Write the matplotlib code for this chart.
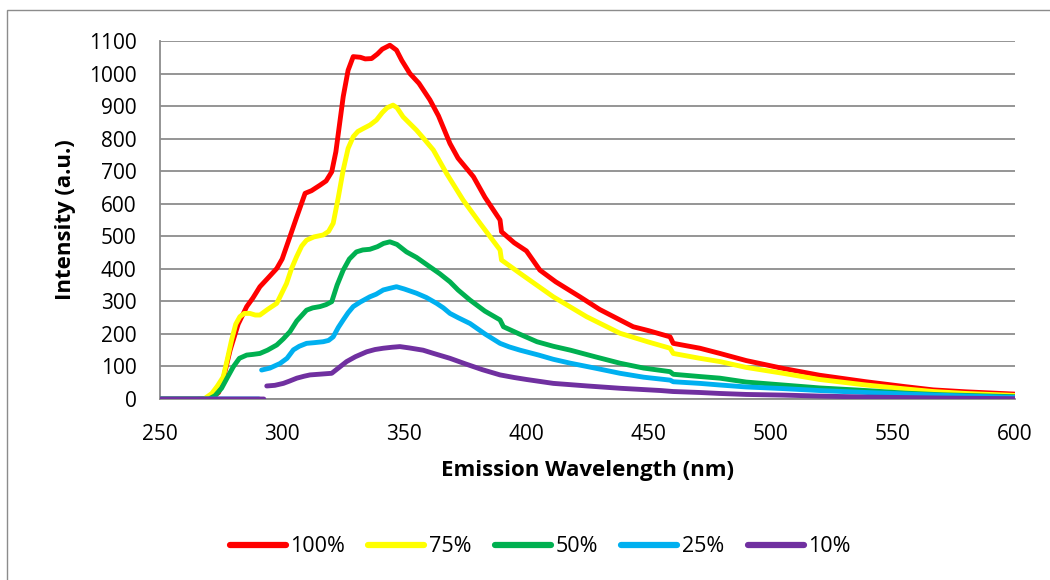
import matplotlib
matplotlib.use("Agg")
import matplotlib.pyplot as plt
from matplotlib.patches import Rectangle
import numpy as np

plt.rcParams['font.family'] = ['Open Sans', 'DejaVu Sans']

# ---- data ----
labels = ["100%", "75%", "50%", "25%", "10%"]
colors = ["#FF0000", "#FFFF00", "#00B050", "#00B0F0", "#7030A0"]

wl_100 = [250, 265, 271, 274, 276, 278.7, 282, 285.5, 288, 290.9, 294, 297.8, 300, 303.2, 306, 309.4, 312,
          315.5, 318, 320.3, 322, 325, 327, 329.1, 332, 334, 336.6, 339, 341, 344.1, 346.8, 349, 352.3, 356,
          360.5, 364, 368.7, 372, 378.3, 383, 389.2, 389.8, 395, 400, 405.5, 412, 421.9, 430, 443.7, 450,
          458.8, 460.1, 471, 479.2, 490, 505, 520, 539, 555, 566.5, 580, 600]
int_100 = [0, 0, 2, 20, 65, 150, 230, 284, 310, 345, 370, 401, 430, 499, 560, 632, 640,
           657, 670, 698, 760, 929, 1010, 1052, 1050, 1045, 1046, 1060, 1075, 1087, 1072, 1040, 1000, 970,
           919, 870, 785, 740, 683, 620, 550, 514, 480, 455, 396, 360, 314, 275, 222, 210,
           191, 171, 156, 140, 118, 94, 73, 53, 38, 28, 22, 15]

wl_75 = [250, 268, 271.2, 273.5, 275.9, 277.5, 279.3, 281, 282.7, 284.5, 286.8, 289, 290.9, 294, 297.8,
         301.8, 303.8, 305.9, 308, 310, 313, 316.8, 319, 320.9, 323, 325, 327, 329.1, 331, 333.2, 336,
         338.6, 341, 343, 345.4, 347, 349.5, 355, 358, 361.9, 367.3, 374.1, 381, 389.2, 389.8, 397.4, 411,
         424.6, 438.3, 450, 458.8, 460.1, 471, 479.2, 490, 505, 520, 539, 555, 566.5, 580, 600]
int_75 = [0, 0, 17, 40, 68, 120, 181, 230, 253, 263, 263, 258, 258, 275, 294,
          355, 400, 437, 470, 488, 498, 504, 515, 540, 620, 704, 770, 806, 822, 831, 842,
          857, 880, 895, 903, 895, 867, 826, 800, 765, 693, 611, 540, 458, 427, 386, 314,
          253, 202, 175, 156, 140, 125, 115, 97, 79, 60, 43, 31, 23, 17, 11]

wl_50 = [250, 270, 272.5, 275.2, 277.5, 280, 282.5, 285.5, 288, 290.9, 294, 297.8, 300.5, 303.2, 306, 310,
         312.5, 315.5, 318, 320.3, 322.5, 325, 327.5, 330.4, 333, 335.9, 339, 341.5, 344.1, 347, 350.9, 355,
         360.5, 364.5, 368.7, 372, 376.9, 383, 389.2, 390.6, 397, 404.3, 411, 418, 428, 438.3, 448, 458.8,
         460.1, 471, 479.2, 490, 505, 520, 539, 555, 570, 600]
int_50 = [0, 0, 10, 33, 65, 99, 125, 135, 137, 140, 150, 166, 185, 207, 240, 273,
          280, 284, 290, 299, 350, 396, 430, 452, 458, 460, 468, 478, 483, 475, 452, 435,
          406, 385, 360, 335, 304, 270, 243, 222, 200, 176, 162, 150, 130, 110, 95, 84,
          76, 69, 64, 52, 43, 34, 26, 18, 13, 7]

wl_25 = [250, 290.5, 291, 291.6, 295, 299.1, 302, 304.6, 307, 310, 313, 316.8, 319, 320.9, 323, 325, 327,
         329.1, 332, 335.9, 338.5, 341.4, 344, 346.8, 350, 355, 359, 363.2, 366, 368.7, 372, 376.9, 383,
         389.2, 393, 397.4, 405, 411, 418, 428, 438.3, 448, 458.8, 460.1, 471, 479.2, 490, 505, 520, 539,
         560, 580, 600]
int_25 = [0, 0, np.nan, 89, 95, 109, 125, 151, 162, 171, 173, 176, 180, 191, 220, 243, 265,
          284, 298, 314, 322, 335, 340, 345, 338, 325, 312, 294, 280, 263, 250, 232, 200,
          171, 160, 150, 135, 122, 110, 95, 79, 67, 58, 53, 48, 43, 37, 32, 26, 20,
          14, 9, 5]

wl_10 = [250, 292.5, 293, 293.7, 297, 300.5, 303, 306, 309, 311.4, 315, 320.3, 323, 326.4, 330, 334.6,
         338, 341.4, 345, 348.2, 352, 357.7, 362, 368.7, 375, 382, 389.2, 395, 400, 411, 425, 438.3, 455,
         460, 471, 479.2, 490, 505, 520, 539, 570, 600]
int_10 = [0, 0, np.nan, 40, 42, 48, 55, 64, 70, 74, 76, 79, 95, 115, 130, 145,
          152, 156, 159, 161, 157, 150, 140, 125, 108, 90, 74, 66, 60, 48, 40, 33, 26,
          23, 20, 17, 14, 12, 9, 6, 3, 1]

series_x = [wl_100, wl_75, wl_50, wl_25, wl_10]
series_y = [int_100, int_75, int_50, int_25, int_10]

x_ticks = [250, 300, 350, 400, 450, 500, 550, 600]
y_ticks = list(range(0, 1101, 100))

# ---- figure ----
W, H = 1050, 580
fig = plt.figure(figsize=(W / 100, H / 100), dpi=100)
fig.patch.set_facecolor("white")

# chart-area border (cropped at right/bottom)
fig.add_artist(Rectangle((7 / W, -0.1), 1.2, 1 - 10 / H + 0.1, transform=fig.transFigure,
                         fill=False, edgecolor="#8C8C8C", linewidth=1.0))

ax = fig.add_axes([160 / W, 1 - 399 / H, (1015 - 160) / W, (399 - 41) / H])

grid_col = "#8C8C8C"
for yv in y_ticks:
    ax.axhline(yv, color=grid_col, linewidth=1.3, zorder=1)

for xs, ys, c, lab in zip(series_x, series_y, colors, labels):
    ax.plot(xs, ys, color=c, linewidth=3.5, label=lab, solid_capstyle="round",
            solid_joinstyle="round", zorder=3)

ax.set_xlim(250, 600)
ax.set_ylim(0, 1100)
ax.set_xticks(x_ticks)
ax.set_yticks(y_ticks)
ax.tick_params(axis="both", length=0, labelsize=15, colors="black")
ax.tick_params(axis="y", pad=17)
ax.tick_params(axis="x", pad=18)

for s in ["top", "right"]:
    ax.spines[s].set_visible(False)
for s in ["left", "bottom"]:
    ax.spines[s].set_color(grid_col)
    ax.spines[s].set_linewidth(1.3)
    ax.spines[s].set_zorder(2)

ax.set_xlabel("Emission Wavelength (nm)", fontsize=16, fontweight="bold", labelpad=11)
ax.set_ylabel("Intensity (a.u.)", fontsize=16, fontweight="bold", labelpad=9)

leg = fig.legend(loc="center", bbox_to_anchor=(540 / W, 1 - 547 / H), ncol=5, frameon=False,
                 fontsize=15.5, handlelength=2.6, handletextpad=0.2, columnspacing=1.1)
for h in leg.get_lines():
    h.set_linewidth(4.5)

fig.savefig("out.png", dpi=100, facecolor="white")
